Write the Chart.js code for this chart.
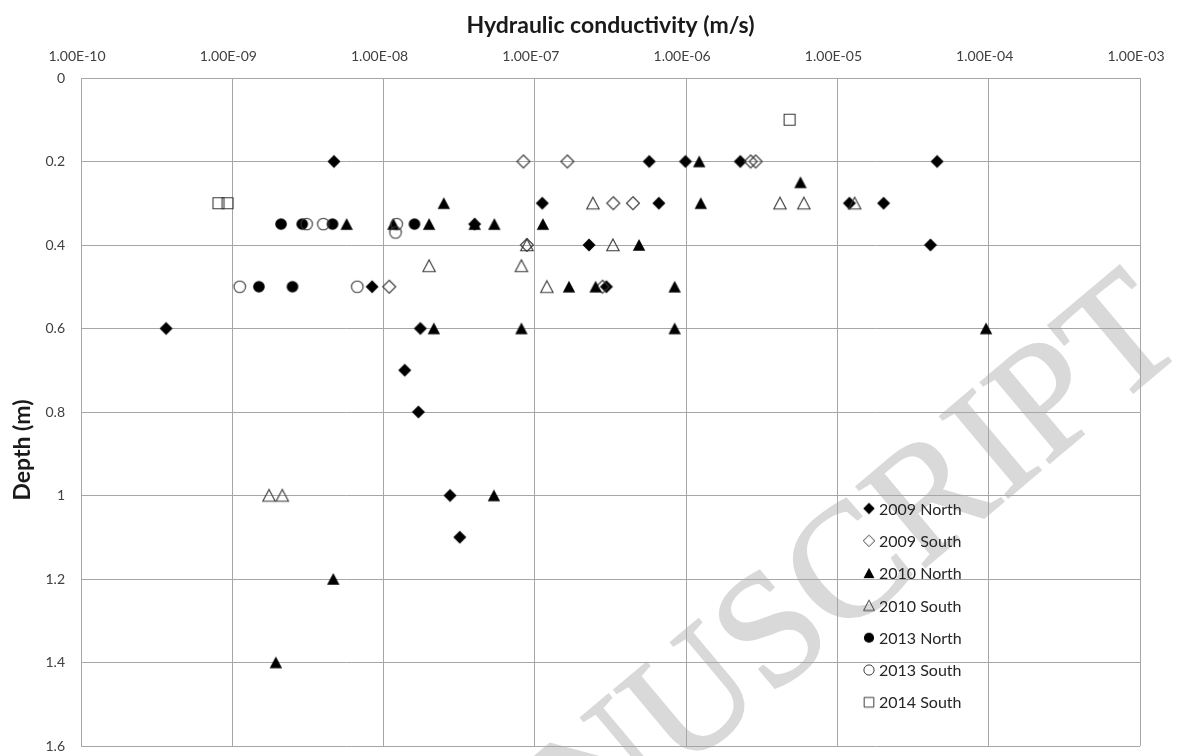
<!DOCTYPE html>
<html>
<head>
<meta charset="utf-8">
<script src="https://cdn.jsdelivr.net/npm/chart.js@4.4.1/dist/chart.umd.min.js"></script>
<style>
  html, body { margin: 0; padding: 0; background: #fff; }
  #wrap { width: 1177px; height: 756px; position: relative; }
</style>
</head>
<body>
<div id="wrap"><canvas id="kChart"></canvas></div>
<script>
// hydraulic conductivity (m/s) and depth (m), one pair of arrays per series
const north2009K = [4.7e-9, 5.7e-7, 9.9e-7, 2.28e-6, 4.56e-5, 1.12e-7, 6.6e-7, 1.20e-5, 2.02e-5, 4.0e-8,
                    2.28e-7, 4.12e-5, 8.4e-9, 2.97e-7, 3.65e-10, 1.75e-8, 1.38e-8, 1.70e-8, 2.75e-8, 3.19e-8];
const north2009D = [0.2, 0.2, 0.2, 0.2, 0.2, 0.3, 0.3, 0.3, 0.3, 0.35,
                    0.4, 0.4, 0.5, 0.5, 0.6, 0.6, 0.7, 0.8, 1.0, 1.1];

const south2009K = [8.4e-8, 1.64e-7, 2.67e-6, 2.88e-6, 3.3e-7, 4.45e-7, 8.85e-8, 1.09e-8, 2.8e-7];
const south2009D = [0.2, 0.2, 0.2, 0.2, 0.3, 0.3, 0.4, 0.5, 0.5];

const north2010K = [1.22e-6, 5.7e-6, 2.5e-8, 1.25e-6, 5.7e-9, 1.16e-8, 2.0e-8, 4.0e-8, 5.4e-8, 1.13e-7,
                    4.88e-7, 1.68e-7, 2.52e-7, 8.4e-7, 2.15e-8, 8.15e-8, 8.4e-7, 9.6e-5, 5.36e-8, 4.65e-9, 1.94e-9];
const north2010D = [0.2, 0.25, 0.3, 0.3, 0.35, 0.35, 0.35, 0.35, 0.35, 0.35,
                    0.4, 0.5, 0.5, 0.5, 0.6, 0.6, 0.6, 0.6, 1.0, 1.2, 1.4];

const south2010K = [2.42e-7, 4.17e-6, 6.0e-6, 1.3e-5, 8.85e-8, 3.28e-7, 2.0e-8, 8.15e-8, 1.2e-7, 1.75e-9, 2.14e-9];
const south2010D = [0.3, 0.3, 0.3, 0.3, 0.4, 0.4, 0.45, 0.45, 0.5, 1.0, 1.0];

const north2013K = [2.1e-9, 2.9e-9, 4.6e-9, 1.6e-8, 1.5e-9, 2.5e-9];
const north2013D = [0.35, 0.35, 0.35, 0.35, 0.5, 0.5];

const south2013K = [3.1e-9, 4.0e-9, 1.22e-8, 1.2e-8, 1.12e-9, 6.7e-9];
const south2013D = [0.35, 0.35, 0.35, 0.37, 0.5, 0.5];

const south2014K = [4.83e-6, 8.1e-10, 9.3e-10];
const south2014D = [0.1, 0.3, 0.3];

const seriesNames = ['2009 North', '2009 South', '2010 North', '2010 South', '2013 North', '2013 South', '2014 South'];
const xTickValues = [1e-10, 1e-9, 1e-8, 1e-7, 1e-6, 1e-5, 1e-4, 1e-3];

const FONT = 'Lato';
const GRID = '#a6a6a6';

// excel-like marker images
function makeMarker(shape, filled, scale) {
  const c = document.createElement('canvas');
  c.width = 16; c.height = 16;
  const g = c.getContext('2d');
  g.translate(8, 8);
  g.scale(scale, scale);
  g.beginPath();
  if (shape === 'diamond') {
    g.moveTo(0, -6.5); g.lineTo(6.5, 0); g.lineTo(0, 6.5); g.lineTo(-6.5, 0); g.closePath();
  } else if (shape === 'triangle') {
    g.moveTo(0, -6); g.lineTo(6.2, 5.8); g.lineTo(-6.2, 5.8); g.closePath();
  } else if (shape === 'circle') {
    g.arc(0, 0, 5.8, 0, Math.PI * 2);
  } else {
    g.rect(-5.5, -5.5, 11, 11);
  }
  if (filled) {
    g.fillStyle = '#000';
    g.fill();
  } else {
    g.lineWidth = 1.1;
    g.strokeStyle = '#383838';
    g.stroke();
  }
  return c;
}

const shapes = [['diamond', true], ['diamond', false], ['triangle', true], ['triangle', false],
                ['circle', true], ['circle', false], ['square', false]];
const kArrays = [north2009K, south2009K, north2010K, south2010K, north2013K, south2013K, south2014K];
const dArrays = [north2009D, south2009D, north2010D, south2010D, north2013D, south2013D, south2014D];

const datasets = seriesNames.map((name, i) => ({
  label: name,
  data: kArrays[i].map((k, j) => ({ x: k, y: dArrays[i][j] })),
  pointStyle: makeMarker(shapes[i][0], shapes[i][1], 1),
  pointRadius: 6,
  order: seriesNames.length - i
}));
const legendMarkers = shapes.map(s => makeMarker(s[0], s[1], 0.88));

function sci(v) {
  const e = Math.round(Math.log10(v));
  const m = v / Math.pow(10, e);
  return m.toFixed(2) + 'E' + (e < 0 ? '-' : '+') + String(Math.abs(e)).padStart(2, '0');
}

// faint manuscript watermark behind the grid
const watermark = {
  id: 'watermark',
  beforeDraw(chart) {
    const ctx = chart.ctx;
    ctx.save();
    ctx.translate(1190, 345);
    ctx.rotate(-40 * Math.PI / 180);
    ctx.font = '162px "Liberation Serif"';
    ctx.fillStyle = '#d9d9d9';
    ctx.strokeStyle = '#d9d9d9';
    ctx.lineWidth = 2;
    ctx.textAlign = 'right';
    ctx.textBaseline = 'alphabetic';
    ctx.fillText('ACCEPTED MANUSCRIPT', 0, 0);
    ctx.strokeText('ACCEPTED MANUSCRIPT', 0, 0);
    ctx.restore();
  }
};

// y title and the in-plot legend
const extras = {
  id: 'extras',
  afterDraw(chart) {
    const ctx = chart.ctx;
    ctx.save();
    ctx.translate(23, 450);
    ctx.rotate(-Math.PI / 2);
    ctx.font = 'bold 23px ' + FONT;
    ctx.fillStyle = '#1a1a1a';
    ctx.textAlign = 'center';
    ctx.textBaseline = 'middle';
    ctx.fillText('Depth (m)', 0, 0);
    ctx.restore();

    ctx.save();
    ctx.font = '16px ' + FONT;
    ctx.fillStyle = '#262626';
    ctx.textAlign = 'left';
    ctx.textBaseline = 'middle';
    seriesNames.forEach((name, i) => {
      const y = 508.5 + i * 32.3;
      ctx.drawImage(legendMarkers[i], 869 - 8, y - 8);
      ctx.fillText(name, 879, y + 1);
    });
    ctx.restore();
  }
};

new Chart('kChart', {
  type: 'scatter',
  data: { datasets: datasets },
  options: {
    responsive: true,
    maintainAspectRatio: false,
    animation: false,
    layout: { padding: { left: 0, right: 37, top: 0, bottom: 10 } },
    plugins: { legend: { display: false }, tooltip: { enabled: false } },
    scales: {
      x: {
        type: 'logarithmic',
        position: 'top',
        min: 1e-10,
        max: 1e-3,
        afterBuildTicks: s => { s.ticks = xTickValues.map(v => ({ value: v })); },
        afterFit: s => { s.height = 78; s.paddingLeft = 0; s.paddingRight = 0; },
        ticks: {
          callback: v => sci(v),
          autoSkip: false,
          maxRotation: 0,
          padding: 13,
          labelOffset: -4,
          color: '#404040',
          font: { family: FONT, size: 14 }
        },
        grid: { color: GRID, drawTicks: false },
        border: { color: GRID },
        title: {
          display: true,
          text: 'Hydraulic conductivity (m/s)',
          color: '#1a1a1a',
          font: { family: FONT, size: 23, weight: 'bold' },
          padding: { top: 12, bottom: 0 }
        }
      },
      y: {
        type: 'linear',
        reverse: true,
        min: 0,
        max: 1.6,
        afterFit: s => { s.width = 81; s.paddingTop = 0; s.paddingBottom = 0; },
        ticks: {
          stepSize: 0.2,
          callback: v => String(Number(v.toFixed(1))),
          padding: 16,
          color: '#404040',
          font: { family: FONT, size: 14 }
        },
        grid: { color: GRID, drawTicks: false },
        border: { color: GRID }
      }
    }
  },
  plugins: [watermark, extras]
});
</script>
</body>
</html>
